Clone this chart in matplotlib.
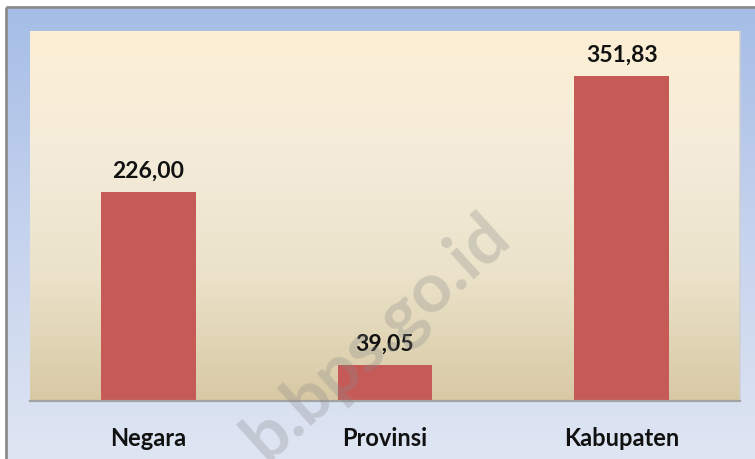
import numpy as np
import matplotlib
matplotlib.use("Agg")
import matplotlib.pyplot as plt
from matplotlib.colors import LinearSegmentedColormap

plt.rcParams['font.family'] = ['Lato', 'DejaVu Sans']

# data
categories = ["Negara", "Provinsi", "Kabupaten"]
values = [226.00, 39.05, 351.83]
value_labels = ["226,00", "39,05", "351,83"]

W, H = 755, 460
fig = plt.figure(figsize=(W / 100, H / 100), dpi=100)
fig.patch.set_facecolor("white")

# --- outer blue gradient panel ---------------------------------------------
bg = fig.add_axes([0, 0, 1, 1], zorder=0)
bg.set_xlim(0, W)
bg.set_ylim(H, 0)
bg.axis("off")
blue = LinearSegmentedColormap.from_list("blue", ["#a5bde6", "#c6d3ee", "#dfe6f3"])
grad = np.linspace(0, 1, 256).reshape(-1, 1)
bg.imshow(grad, cmap=blue, extent=[6, W, H, 8], aspect="auto", zorder=0)
bg.plot([6, W], [8, 8], color="#8c8c8c", lw=2, solid_capstyle="butt", zorder=2)
bg.plot([6, 6], [8, H], color="#8c8c8c", lw=2, solid_capstyle="butt", zorder=2)

# --- plot area ---------------------------------------------------------------
ax = fig.add_axes([30 / W, 58 / H, 710 / W, 370 / H], zorder=1)
cream = LinearSegmentedColormap.from_list(
    "cream", ["#fdefd5", "#f4ecda", "#ebe2c9", "#d8c9a4"])
x = np.arange(len(categories))
ax.set_xlim(-0.5, len(categories) - 0.5)
ax.set_ylim(0, 400)
ax.imshow(grad, cmap=cream, extent=[-0.5, len(categories) - 0.5, 0, 400],
          aspect="auto", zorder=0)

ax.bar(x, values, width=0.4, color="#c65a57", zorder=2)
for xi, v, lab in zip(x, values, value_labels):
    ax.annotate(lab, (xi, v), xytext=(0, 11), textcoords="offset points",
                ha="center", va="baseline", fontsize=16.5, fontweight="bold",
                color="#111111", zorder=3)

for s in ["top", "left"]:
    ax.spines[s].set_visible(False)
ax.spines["bottom"].set_color("#a3a3a3")
ax.spines["bottom"].set_linewidth(1.6)
ax.spines["right"].set_color("#d0d0d0")
ax.spines["right"].set_linewidth(1.2)
ax.set_yticks([])
ax.set_xticks(x)
ax.set_xticklabels(categories, fontsize=17, fontweight="bold", color="#111111")
ax.tick_params(axis="x", length=0, pad=18)

# watermark
fig.text(0.50, 0.265, "b.bps.go.id", rotation=42, ha="center", va="center",
         rotation_mode="anchor", fontsize=50, fontweight="bold",
         color="#8a8a8a", alpha=0.3, zorder=5)

fig.savefig("out.png", dpi=100)
